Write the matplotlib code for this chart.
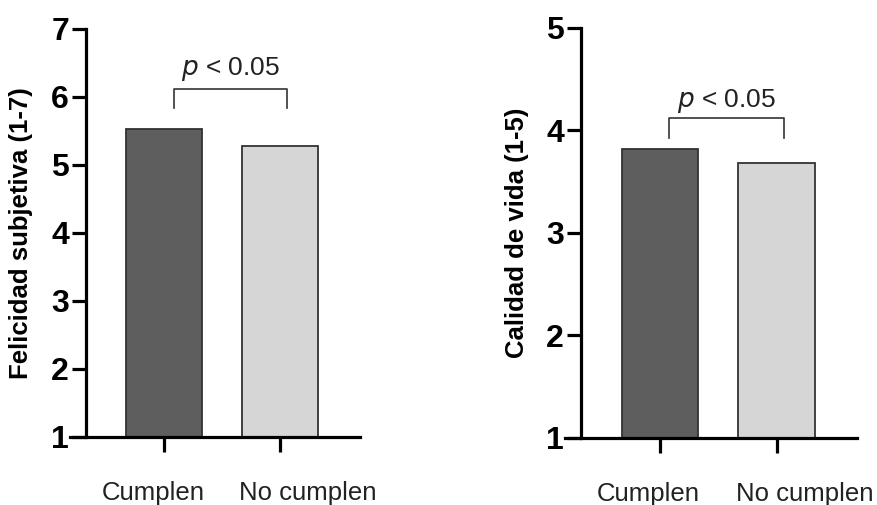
import matplotlib.pyplot as plt
from matplotlib.transforms import blended_transform_factory

plt.rcParams['font.family'] = ['Liberation Sans', 'DejaVu Sans']

# data
groups = ['Cumplen', 'No cumplen']
felicidad = [5.53, 5.28]
calidad = [3.82, 3.68]
bar_colors = ['#5e5e5e', '#d6d6d6']

fig = plt.figure(figsize=(8.77, 5.05), dpi=100)
ax1 = fig.add_axes([0.0798, 0.1347, 0.3307, 0.808])
ax2 = fig.add_axes([0.6442, 0.1327, 0.3330, 0.812])


def draw_panel(ax, values, ymax, ylabel, label_x, bracket_y, leg_y, text_y):
    x = range(len(values))
    ax.bar(x, values, width=0.655, bottom=0, color=bar_colors,
           edgecolor='#333333', linewidth=1.3, zorder=2)
    ax.set_ylim(1, ymax)
    ax.set_xlim(-0.815, 1.69)
    ax.set_yticks(range(1, ymax + 1))
    ax.set_xticks(list(x))
    ax.set_xticklabels([])

    # prism-like axes: y axis offset, x axis runs past it
    for s in ['top', 'right']:
        ax.spines[s].set_visible(False)
    ax.spines['left'].set_position(('data', -0.68))
    ax.spines['left'].set_linewidth(2.3)
    ax.spines['bottom'].set_linewidth(2.3)
    ax.tick_params(axis='y', length=10, width=2.3, labelsize=23, pad=2)
    ax.tick_params(axis='x', length=11, width=2.3)
    for lab in ax.get_yticklabels():
        lab.set_fontweight('bold')
    ax.set_ylabel(ylabel, fontsize=18.5, fontweight='bold', va='center')
    ax.yaxis.set_label_coords(label_x, 0.5)

    # group labels sit a little off the ticks
    tr = blended_transform_factory(ax.transData, ax.transAxes)
    offsets = [-0.10, 0.24]
    for i, g in enumerate(groups):
        ax.text(i + offsets[i], -0.137, g, transform=tr, ha='center',
                va='center', fontsize=18.5, color='#222222')

    # significance bracket
    ax.plot([0.08, 0.08, 1.06, 1.06], [leg_y, bracket_y, bracket_y, leg_y],
            color='#333333', linewidth=1.2, clip_on=False)
    ax.text(0.57, text_y, r'$\it{p}$ < 0.05', ha='center', va='baseline',
            fontsize=19, color='#222222')


draw_panel(ax1, felicidad, 7, 'Felicidad subjetiva (1-7)', -0.169, 6.12, 5.84, 6.32)
draw_panel(ax2, calidad, 5, 'Calidad de vida (1-5)', -0.164, 4.12, 3.93, 4.23)

fig.savefig('out.png', dpi=100)
